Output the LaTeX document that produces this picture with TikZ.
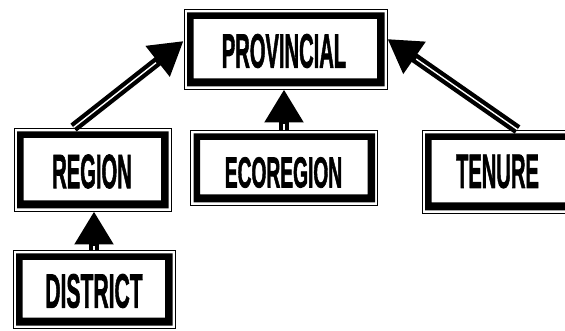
\documentclass[tikz,border=0pt]{standalone}
\usepackage{fontspec}
\setmainfont[BoldFeatures={FakeBold=2}]{Liberation Sans}
\usepackage{graphicx}
\usetikzlibrary{arrows.meta}
\newcommand\cnd[1]{\scalebox{0.42}[1]{#1}}
\begin{document}
\begin{tikzpicture}[x=1pt,y=-1pt,
  boxnode/.style={draw=black, line width=0.9pt, rectangle, inner sep=0pt, fill=white,
    path picture={
      \fill[black, even odd rule]
        ([xshift=3pt,yshift=-3.5pt]path picture bounding box.north west) rectangle ([xshift=-2.5pt,yshift=2.5pt]path picture bounding box.south east)
        ([xshift=9.5pt,yshift=-10pt]path picture bounding box.north west) rectangle ([xshift=-10pt,yshift=10.5pt]path picture bounding box.south east);
    }},
  lbl/.style={inner sep=0pt, font=\fontsize{48}{48}\selectfont\bfseries},
  shaft/.style={line width=10pt, -{Triangle[length=33pt,width=37pt]}},
  shaftline/.style={white, line width=1.4pt, shorten >=35pt}
]
\clip (0,0) rectangle (565,331);
\fill[white] (0,0) rectangle (565,331);
% boxes
\node[boxnode, minimum width=203pt, minimum height=80pt] (prov) at (285.5,49) {};
\node[boxnode, minimum width=157pt, minimum height=83pt] (region) at (92.5,169.5) {};
\node[boxnode, minimum width=187pt, minimum height=75pt] (eco) at (284,167.5) {};
\node[boxnode, minimum width=153pt, minimum height=83pt] (tenure) at (498.5,171.5) {};
\node[boxnode, minimum width=162pt, minimum height=78pt] (district) at (94,289) {};
% labels
\node[lbl] (provt) at (284,51) {\cnd{PROVINCIAL}};
\node[lbl] (regiont) at (92,171.5) {\cnd{REGION}};
\node[lbl] (ecot) at (283.5,172.5) {\scalebox{0.4}[0.9]{ECOREGION}};
\node[lbl] (tenuret) at (497.5,171.5) {\cnd{TENURE}};
\node[lbl] (districtt) at (94,291) {\scalebox{0.44}[1]{DISTRICT}};
% connectors
\coordinate (rs) at ([xshift=-19pt]region.north);
\coordinate (rt) at ([yshift=8pt]prov.west);
\coordinate (ts) at ([xshift=19pt]tenure.north);
\coordinate (tt) at ([yshift=10pt]prov.east);
\draw[shaft] (rs) -- (rt);
\draw[shaftline] (rs) -- (rt);
\draw[shaft] (ts) -- (tt);
\draw[shaftline] (ts) -- (tt);
\draw[shaft] (eco.north) -- (eco.north |- prov.south);
\draw[shaftline] (eco.north) -- (eco.north |- prov.south);
\draw[shaft] (district.north) -- (district.north |- region.south);
\draw[shaftline] (district.north) -- (district.north |- region.south);
\end{tikzpicture}
\end{document}
